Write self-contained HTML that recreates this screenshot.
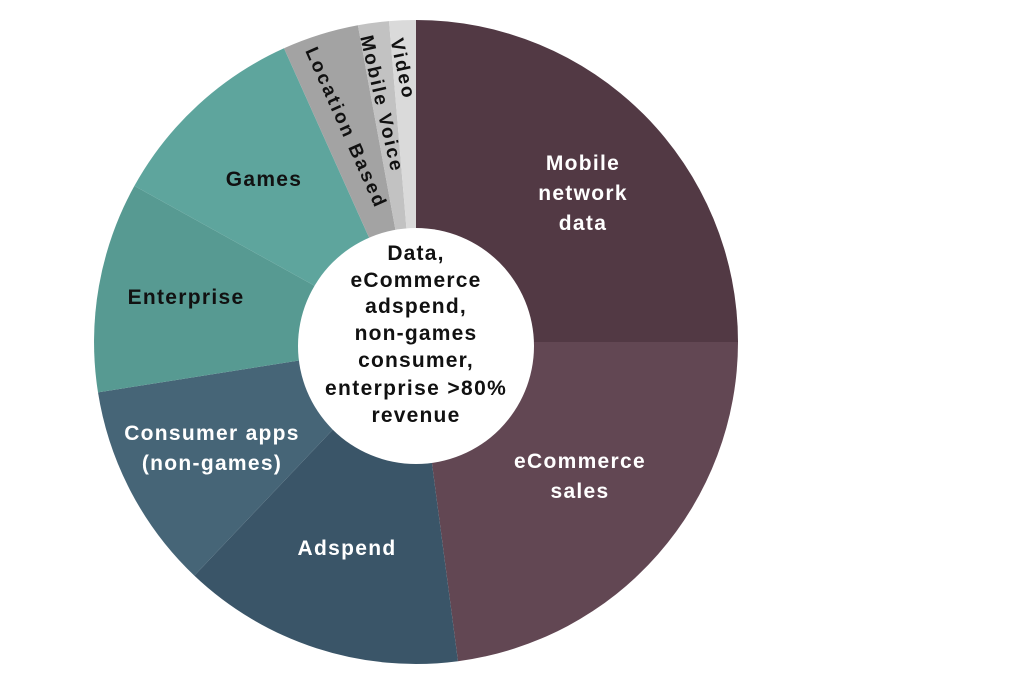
<!DOCTYPE html>
<html><head><meta charset="utf-8"><style>
html,body{margin:0;padding:0;background:#fff;}
svg{display:block;}
text{font-family:"Liberation Sans",sans-serif;font-weight:bold;}
</style></head><body>
<svg width="1024" height="677" viewBox="0 0 1024 677">
<rect width="1024" height="677" fill="#fff"/>
<g stroke="none">
<path d="M416,342 L416,20 A322,322 0 0 1 738,342 Z" fill="#523944"/>
<path d="M416,342 L738,342 A322,322 0 0 1 458,661.2 Z" fill="#624753"/>
<path d="M416,342 L458,661.2 A322,322 0 0 1 194.3,575.6 Z" fill="#3a5568"/>
<path d="M416,342 L194.3,575.6 A322,322 0 0 1 98,392.4 Z" fill="#466577"/>
<path d="M416,342 L98,392.4 A322,322 0 0 1 134.4,185.9 Z" fill="#579a92"/>
<path d="M416,342 L134.4,185.9 A322,322 0 0 1 284,48.3 Z" fill="#5ea59d"/>
<path d="M416,342 L284,48.3 A322,322 0 0 1 357.9,25.3 Z" fill="#a3a3a3"/>
<path d="M416,342 L357.9,25.3 A322,322 0 0 1 389,21.1 Z" fill="#c2c2c2"/>
<path d="M416,342 L389,21.1 A322,322 0 0 1 416,20 Z" fill="#dadada"/>
</g>
<circle cx="416" cy="346" r="118" fill="#fff"/>
<g fill="#fff" font-size="21" text-anchor="middle" letter-spacing="1.3">
<text x="583" y="170">Mobile</text>
<text x="583" y="200">network</text>
<text x="583" y="230">data</text>
<text x="580" y="468">eCommerce</text>
<text x="580" y="498">sales</text>
<text x="347" y="555">Adspend</text>
<text x="212" y="440">Consumer apps</text>
<text x="212" y="470">(non-games)</text>
</g>
<g fill="#111" font-size="21" text-anchor="middle" letter-spacing="1.3">
<text x="264" y="186">Games</text>
<text x="186" y="304">Enterprise</text>
</g>
<g fill="#111" font-size="21" text-anchor="middle" letter-spacing="1.2">
<text x="416" y="260">Data,</text>
<text x="416" y="287">eCommerce</text>
<text x="416" y="313">adspend,</text>
<text x="416" y="340">non-games</text>
<text x="416" y="367">consumer,</text>
<text x="416" y="395" textLength="182" lengthAdjust="spacing">enterprise &gt;80%</text>
<text x="416" y="422">revenue</text>
</g>
<g fill="#111" font-size="19" text-anchor="middle" dominant-baseline="central">
<text transform="translate(402,68) rotate(78)" textLength="60" lengthAdjust="spacing">Video</text>
<text transform="translate(381,103) rotate(77)" textLength="138" lengthAdjust="spacing">Mobile Voice</text>
<text transform="translate(345,127) rotate(66)" textLength="172" lengthAdjust="spacing">Location Based</text>
</g>
</svg>
</body></html>
